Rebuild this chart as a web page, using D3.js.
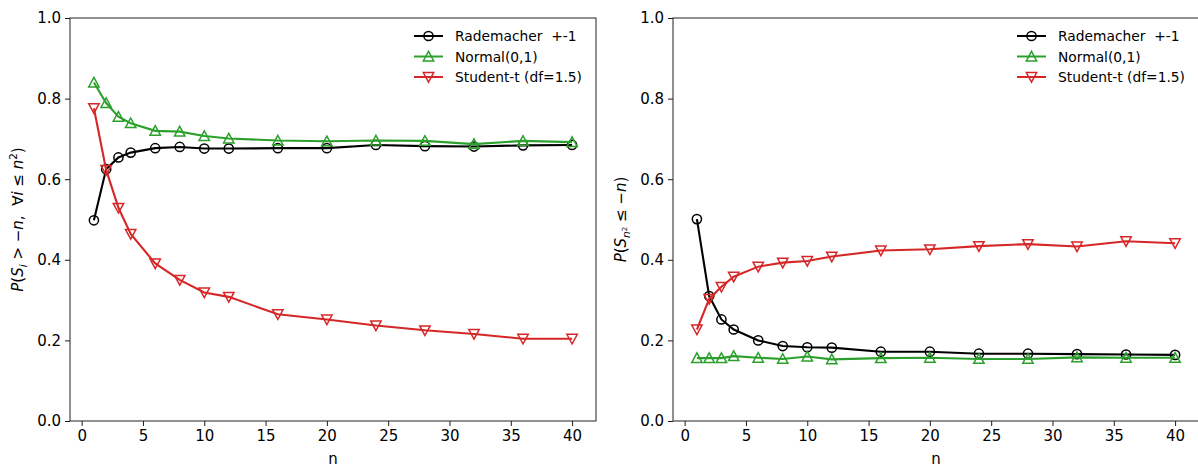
<!doctype html>
<html>
<head>
<meta charset="UTF-8">
<title>chart</title>
<script src="https://d3js.org/d3.v7.min.js"></script>
<style>
  body { margin: 0; background: #fff; }
  text { font-family: "DejaVu Sans", sans-serif; fill: #000; }
</style>
</head>
<body>
<script>
// n values shared by both panels
var nVals = [1, 2, 3, 4, 6, 8, 10, 12, 16, 20, 24, 28, 32, 36, 40];

// left panel: P(S_i > -n, for all i <= n^2)
var radeLeft    = [0.498, 0.625, 0.654, 0.666, 0.677, 0.680, 0.676, 0.676, 0.677, 0.677, 0.685, 0.682, 0.681, 0.684, 0.685];
var normalLeft  = [0.840, 0.789, 0.755, 0.739, 0.720, 0.718, 0.707, 0.701, 0.696, 0.694, 0.696, 0.695, 0.687, 0.695, 0.692];
var studentLeft = [0.776, 0.623, 0.529, 0.464, 0.391, 0.350, 0.319, 0.308, 0.265, 0.252, 0.237, 0.225, 0.216, 0.204, 0.204];

// right panel: P(S_{n^2} <= -n)
var radeRight    = [0.501, 0.310, 0.252, 0.227, 0.200, 0.186, 0.183, 0.182, 0.172, 0.172, 0.167, 0.167, 0.166, 0.165, 0.164];
var normalRight  = [0.156, 0.156, 0.156, 0.161, 0.157, 0.154, 0.160, 0.153, 0.156, 0.157, 0.154, 0.154, 0.158, 0.157, 0.157];
var studentRight = [0.227, 0.303, 0.333, 0.358, 0.383, 0.393, 0.397, 0.408, 0.423, 0.426, 0.434, 0.439, 0.433, 0.446, 0.441];

var seriesNames = ["Rademacher  +-1", "Normal(0,1)", "Student-t (df=1.5)"];
var colors = ["#000000", "#2ca02c", "#d62728"];
var shapes = ["circle", "up", "down"];

var xTicks = [0, 5, 10, 15, 20, 25, 30, 35, 40];
var yTicks = [0.0, 0.2, 0.4, 0.6, 0.8, 1.0];

var W = 1198, H = 468;
var svg = d3.select("body").append("svg").attr("width", W).attr("height", H);

function marker(g, shape, x, y, color) {
  if (shape == "circle") {
    g.append("circle").attr("cx", x).attr("cy", y).attr("r", 4.6)
      .attr("fill", "none").attr("stroke", color).attr("stroke-width", 1.5);
  } else {
    var s = 5.2;
    var pts = shape == "up"
      ? [[x, y - s], [x - s, y + s * 0.85], [x + s, y + s * 0.85]]
      : [[x, y + s], [x - s, y - s * 0.85], [x + s, y - s * 0.85]];
    g.append("polygon").attr("points", pts.map(function(p){ return p.join(","); }).join(" "))
      .attr("fill", "none").attr("stroke", color).attr("stroke-width", 1.5);
  }
}

function panel(left, data, legendX, ylabel) {
  var top = 18, bottom = 421, width = 526;
  var x = d3.scaleLinear().domain([-0.95, 41.95]).range([left, left + width]);
  var y = d3.scaleLinear().domain([0, 1]).range([bottom, top]);
  var g = svg.append("g");

  // data lines
  data.forEach(function(vals, k) {
    var line = d3.line().x(function(d, i){ return x(nVals[i]); }).y(function(d){ return y(d); });
    g.append("path").datum(vals).attr("d", line)
      .attr("fill", "none").attr("stroke", colors[k]).attr("stroke-width", 2.1);
    vals.forEach(function(v, i) { marker(g, shapes[k], x(nVals[i]), y(v), colors[k]); });
  });

  // axes
  var xa = g.append("g").attr("transform", "translate(0," + bottom + ")")
    .call(d3.axisBottom(x).tickValues(xTicks).tickSize(5).tickPadding(4));
  var ya = g.append("g").attr("transform", "translate(" + left + ",0)")
    .call(d3.axisLeft(y).tickValues(yTicks).tickSize(5).tickPadding(4).tickFormat(d3.format(".1f")));
  [xa, ya].forEach(function(a) {
    a.select(".domain").remove();
    a.selectAll("line").attr("stroke", "#000").attr("stroke-width", 0.9);
    a.selectAll("text").style("font-size", "15px").style("font-family", "DejaVu Sans");
  });

  g.append("rect").attr("x", left).attr("y", top).attr("width", width).attr("height", bottom - top)
    .attr("fill", "none").attr("stroke", "#222").attr("stroke-width", 1);

  // x label
  g.append("text").attr("x", left + width / 2).attr("y", 464).attr("text-anchor", "middle")
    .style("font-size", "15px").text("n");

  // y label
  var yl = g.append("text").attr("transform", "translate(" + (left - 47) + "," + ((top + bottom) / 2) + ") rotate(-90)")
    .attr("text-anchor", "middle").style("font-size", "15px");
  ylabel(yl);

  // legend
  data.forEach(function(vals, k) {
    var ly = 36 + k * 20.5;
    g.append("line").attr("x1", legendX).attr("x2", legendX + 29).attr("y1", ly).attr("y2", ly)
      .attr("stroke", colors[k]).attr("stroke-width", 2);
    marker(g, shapes[k], legendX + 14.5, ly, colors[k]);
    g.append("text").attr("x", legendX + 41).attr("y", ly + 5)
      .style("font-size", "13.8px").style("white-space", "pre").text(seriesNames[k]);
  });
}

function it(t, s) { t.append("tspan").style("font-style", "italic").text(s); }
function rm(t, s) { t.append("tspan").style("white-space", "pre").text(s); }

panel(70, [radeLeft, normalLeft, studentLeft], 414, function(t) {
  it(t, "P"); rm(t, "("); it(t, "S");
  t.append("tspan").attr("dy", 4).style("font-size", "10.5px").style("font-style", "italic").text("i");
  t.append("tspan").attr("dy", -4).style("white-space", "pre").text(" > \u2212"); it(t, "n"); rm(t, ",  \u2200"); it(t, "i");
  rm(t, " \u2264 "); it(t, "n");
  t.append("tspan").attr("dy", -6).style("font-size", "10.5px").text("2");
  t.append("tspan").attr("dy", 6).text(")");
});

panel(673, [radeRight, normalRight, studentRight], 1017, function(t) {
  it(t, "P"); rm(t, "("); it(t, "S");
  t.append("tspan").attr("dy", 4).style("font-size", "10.5px").style("font-style", "italic").text("n");
  t.append("tspan").attr("dy", -3).style("font-size", "7px").text("2");
  t.append("tspan").attr("dy", -1).style("white-space", "pre").text(" \u2264 \u2212"); it(t, "n"); rm(t, ")");
});
</script>
</body>
</html>
